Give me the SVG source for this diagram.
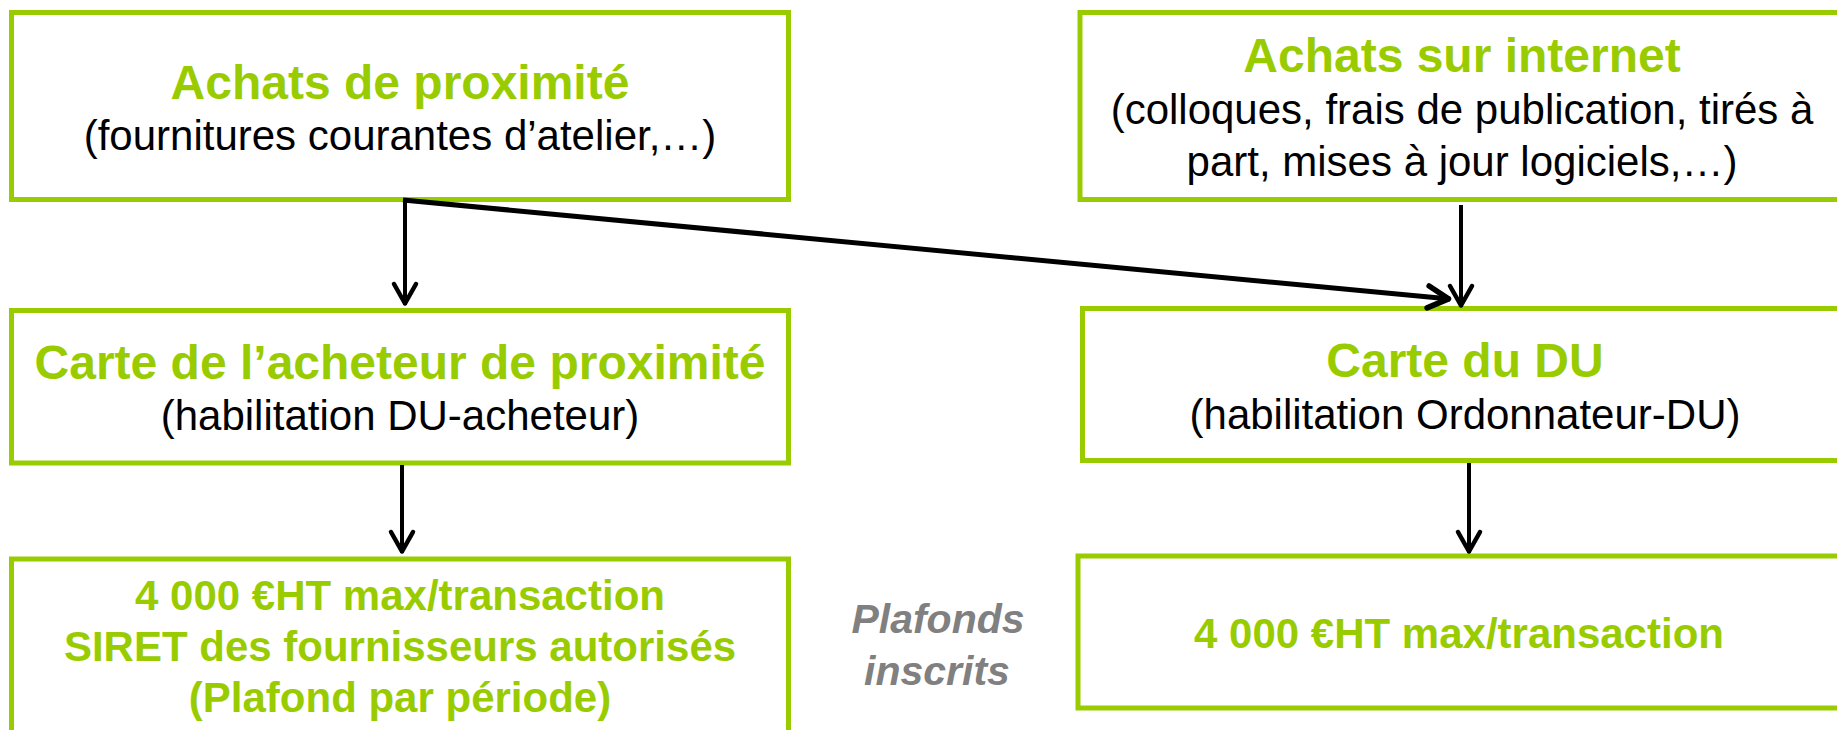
<svg xmlns="http://www.w3.org/2000/svg" width="1837" height="730" viewBox="0 0 1837 730">
<style>
.box{fill:#fff;stroke:#99cc00;stroke-width:5}
.t{font-family:"Liberation Sans",Arial,sans-serif;font-weight:bold;font-size:48px;fill:#99cc00;text-anchor:middle}
.s{font-family:"Liberation Sans",Arial,sans-serif;font-size:42px;fill:#000;text-anchor:middle}
.b{font-family:"Liberation Sans",Arial,sans-serif;font-weight:bold;font-size:42px;fill:#99cc00;text-anchor:middle}
.g{font-family:"Liberation Sans",Arial,sans-serif;font-weight:bold;font-style:italic;font-size:41px;fill:#808080;text-anchor:middle}
.c{fill:none;stroke:#000}
</style>
<defs>
<marker id="ah" viewBox="-30 -20 36 40" markerWidth="36" markerHeight="40" refX="0" refY="0" orient="auto" markerUnits="userSpaceOnUse">
<path d="M-21,-11 L-1.5,0 L-21,11" fill="none" stroke="#000" stroke-width="4.5" stroke-linecap="round" stroke-linejoin="round"/>
</marker>
<marker id="ahb" viewBox="-30 -20 36 40" markerWidth="36" markerHeight="40" refX="0" refY="0" orient="auto" markerUnits="userSpaceOnUse">
<path d="M-22,-11 L-1.5,0 L-22,11" fill="none" stroke="#000" stroke-width="5.5" stroke-linecap="round" stroke-linejoin="round"/>
</marker>
</defs>
<rect width="1837" height="730" fill="#fff"/>
<g id="n1">
<rect class="box" x="11.5" y="12.5" width="777" height="187"/>
<text class="t" x="400" y="99">Achats de proximité</text>
<text class="s" x="400" y="150">(fournitures courantes d’atelier,…)</text>
</g>
<g id="n2">
<rect class="box" x="1080" y="12.5" width="790" height="187"/>
<text class="t" x="1462" y="72">Achats sur internet</text>
<text class="s" x="1462" y="124">(colloques, frais de publication, tirés à</text>
<text class="s" x="1462" y="176">part, mises à jour logiciels,…)</text>
</g>
<g id="n3">
<rect class="box" x="11.5" y="310.5" width="777" height="152.5"/>
<text class="t" x="400" y="379">Carte de l’acheteur de proximité</text>
<text class="s" x="400" y="430">(habilitation DU-acheteur)</text>
</g>
<g id="n4">
<rect class="box" x="1082.5" y="308.5" width="790" height="152"/>
<text class="t" x="1465" y="377">Carte du DU</text>
<text class="s" x="1465" y="429">(habilitation Ordonnateur-DU)</text>
</g>
<g id="n5">
<rect class="box" x="11.5" y="559" width="777" height="200"/>
<text class="b" x="400" y="610">4 000 €HT max/transaction</text>
<text class="b" x="400" y="661">SIRET des fournisseurs autorisés</text>
<text class="b" x="400" y="712">(Plafond par période)</text>
</g>
<g id="n6">
<rect class="box" x="1078" y="556" width="790" height="152"/>
<text class="b" x="1459" y="648">4 000 €HT max/transaction</text>
</g>
<g id="n7">
<text class="g" x="938" y="633">Plafonds</text>
<text class="g" x="937" y="685">inscrits</text>
</g>
<g id="connectors">
<path class="c" d="M405,199 L405,305" stroke-width="4" marker-end="url(#ah)"/>
<path class="c" d="M403,200 L1450,299" stroke-width="5" marker-end="url(#ahb)"/>
<path class="c" d="M1461,205 L1461,307" stroke-width="4" marker-end="url(#ah)"/>
<path class="c" d="M402,465 L402,553" stroke-width="4" marker-end="url(#ah)"/>
<path class="c" d="M1469,463 L1469,553" stroke-width="4" marker-end="url(#ah)"/>
</g>
</svg>
